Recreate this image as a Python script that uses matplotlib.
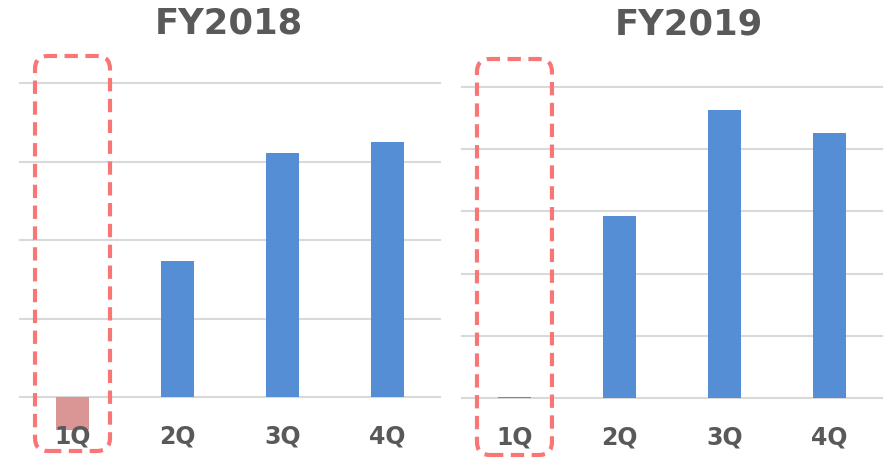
import matplotlib
matplotlib.use("Agg")
import matplotlib.pyplot as plt
from matplotlib.patches import FancyBboxPatch

# Quarterly values (gridline units)
quarters = ["1Q", "2Q", "3Q", "4Q"]
fy2018 = [-0.42, 1.73, 3.11, 3.25]
fy2019 = [0.02, 2.93, 4.63, 4.26]
titles = ["FY2018", "FY2019"]

blue = "#558ED5"
pink = "#D99694"
grid_color = "#D9D9D9"
text_color = "#595959"
box_color = "#F87676"

plt.rcParams["font.family"] = ["Liberation Sans", "DejaVu Sans"]

fig = plt.figure(figsize=(8.85, 4.70), dpi=100)

# axes placement in figure fractions
ax1 = fig.add_axes([0.0226, 0.1553, 0.4746, 0.668])
ax2 = fig.add_axes([0.5220, 0.1532, 0.4746, 0.6617])

panels = [(ax1, fy2018, 4, titles[0]), (ax2, fy2019, 5, titles[1])]

for ax, vals, top, title in panels:
    x = range(len(quarters))
    colors = [pink if v < 0 else blue for v in vals]
    ax.bar(x, vals, width=0.31, color=colors, zorder=1, clip_on=False)
    for g in range(top + 1):
        ax.axhline(g, color=grid_color, lw=1.5, zorder=0, clip_on=False)
    ax.set_xlim(-0.5, len(quarters) - 0.5)
    ax.set_ylim(0, top)
    for s in ax.spines.values():
        s.set_visible(False)
    ax.set_yticks([])
    ax.set_xticks(list(x))
    ax.set_xticklabels(quarters, fontsize=17, fontweight="heavy",
                       family="DejaVu Sans", color=text_color)
    ax.tick_params(axis="x", length=0, pad=20)
    ax.set_facecolor("none")

fig.text(0.259, 0.950, titles[0], fontsize=25.5, fontweight="bold",
         family="DejaVu Sans", color=text_color, ha="center", va="center")
fig.text(0.778, 0.948, titles[1], fontsize=25.5, fontweight="bold",
         family="DejaVu Sans", color=text_color, ha="center", va="center")

# dashed highlight boxes around 1Q, placed in pixel space from data coords
fig.canvas.draw()
H = fig.bbox.height
for ax, top_px, bot_px in [(ax1, 56, 451), (ax2, 59, 455)]:
    xl, _ = ax.transData.transform((-0.357, 0))
    xr, _ = ax.transData.transform((0.357, 0))
    box = FancyBboxPatch((xl, H - bot_px), xr - xl, bot_px - top_px,
                         boxstyle="round,pad=0,rounding_size=13",
                         transform=None, fill=False, edgecolor=box_color,
                         lw=3.0, zorder=5)
    box.set_linestyle((0, (3.2, 1.8)))
    fig.add_artist(box)

fig.savefig("out.png", dpi=100)
